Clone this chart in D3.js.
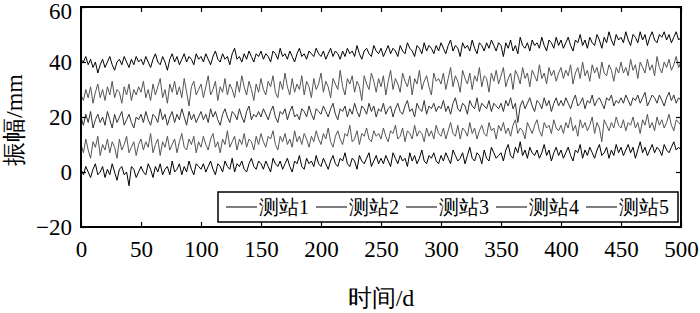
<!DOCTYPE html>
<html>
<head>
<meta charset="utf-8">
<script src="https://cdn.jsdelivr.net/npm/d3@7"></script>
</head>
<body style="margin:0;background:#fff">
<div class="chart"></div>
<script>
/* series names and time axis */
const stations = ["测站1", "测站2", "测站3", "测站4", "测站5"];
const days = d3.range(0, 501, 2);
const xTicks = [0, 50, 100, 150, 200, 250, 300, 350, 400, 450, 500];
const yTicks = [-20, 0, 20, 40, 60];

/* amplitude (mm), every 2 days */
const s1 = [
  41,40,42,39,41,38,40,36,39,41,38,40,42,39,37,40,41,39,42,40,38,41,39,42,40,
  41,39,42,40,38,41,43,40,39,42,40,37,41,43,40,42,39,41,43,40,42,41,39,43,41,
  42,40,43,41,39,42,44,41,40,43,41,42,39,43,45,41,42,40,43,41,44,42,40,43,42,
  44,41,43,42,40,44,43,41,45,42,43,41,44,42,40,43,45,42,43,41,44,43,42,45,43,
  42,44,41,43,45,42,44,43,41,44,42,45,43,44,42,46,43,41,44,45,43,42,46,44,43,
  45,42,44,46,43,45,44,42,46,44,43,47,45,44,42,46,45,43,47,44,46,45,43,46,44,
  47,45,43,46,48,44,46,45,42,47,45,46,44,48,45,43,47,46,44,47,45,48,46,44,47,
  46,42,47,45,48,44,46,43,49,46,45,47,44,48,46,47,45,49,46,44,48,47,45,49,46,
  48,45,47,49,46,44,48,47,50,46,48,45,49,47,46,50,48,45,49,47,51,48,46,50,48,
  49,47,51,48,46,50,49,47,51,48,50,46,49,51,48,47,50,49,51,48,50,47,49,51,48,
  49
];
const s2 = [
  28,26,30,27,31,25,29,32,27,30,26,31,28,33,27,30,29,25,31,28,32,26,30,28,31,
  29,33,27,30,26,32,28,31,34,27,30,25,32,29,33,28,31,27,34,29,24,31,33,28,30,
  32,27,31,35,28,30,33,26,31,29,34,28,32,30,27,33,29,35,31,28,33,30,26,32,29,
  34,30,28,33,31,35,29,27,33,30,36,31,28,34,29,32,30,35,28,33,31,27,34,30,32,
  36,29,33,31,27,34,32,30,37,31,28,34,32,35,29,33,31,26,35,32,30,36,33,29,34,
  31,35,28,33,37,30,34,32,29,36,33,31,35,28,34,32,37,30,33,35,31,28,36,33,34,
  32,36,30,34,38,31,35,33,29,37,34,32,36,30,35,33,38,31,35,34,29,36,33,37,32,
  35,38,31,34,36,30,37,35,32,38,34,36,31,37,35,33,39,34,36,32,38,35,37,33,36,
  38,34,37,35,39,32,36,38,34,40,35,37,33,39,36,38,34,40,36,35,39,37,33,38,36,
  40,36,38,35,41,37,39,34,40,38,36,41,37,39,35,42,38,36,40,38,41,37,39,42,38,
  40
];
const s3 = [
  20,17,21,18,22,16,19,21,18,20,17,22,19,16,21,18,20,22,17,19,21,18,16,20,19,
  21,18,22,19,17,21,20,18,23,19,21,17,20,22,18,21,19,23,20,17,22,19,21,18,20,
  22,19,21,18,23,20,22,19,17,21,23,20,18,22,21,19,23,20,18,22,24,19,21,20,22,
  20,23,21,19,22,24,20,18,22,21,23,19,22,24,20,21,19,23,22,20,24,21,19,23,22,
  21,24,22,20,23,25,21,19,23,22,24,20,23,21,25,22,20,24,23,21,25,22,24,20,23,
  22,25,21,23,24,20,23,25,22,21,24,26,22,23,20,25,23,22,26,21,24,23,25,22,24,
  23,26,22,24,21,25,27,23,22,25,24,21,26,24,23,27,22,25,24,23,26,22,25,24,23,
  25,22,26,24,27,23,25,18,24,26,23,25,27,24,22,26,25,23,27,24,26,22,25,27,24,
  26,24,27,25,23,26,28,24,25,27,23,26,25,28,24,26,27,25,23,27,26,28,24,26,25,
  27,25,28,26,24,27,26,28,25,27,29,24,26,28,27,25,28,26,24,27,29,26,28,25,27,
  26
];
const s4 = [
  10,7,12,8,5,11,9,13,6,10,8,12,7,11,9,5,12,8,10,13,7,9,11,6,10,
  12,8,11,9,14,7,10,12,6,11,9,13,8,10,12,7,11,14,9,8,12,10,13,7,11,
  9,13,10,8,12,14,9,11,7,12,10,15,9,11,13,8,12,10,14,9,12,11,8,13,10,
  14,11,9,13,12,15,10,8,13,11,14,10,12,9,15,11,13,10,14,12,9,13,11,15,12,
  10,14,12,16,11,9,13,15,12,10,14,13,17,11,12,15,10,14,13,16,12,11,15,13,14,
  12,16,13,11,15,14,17,12,13,16,11,15,14,12,17,13,15,14,11,16,13,15,12,17,14,
  13,16,12,15,18,14,13,17,12,16,15,13,18,14,16,12,15,17,14,13,18,15,16,12,17,
  15,18,14,16,13,17,19,14,16,15,12,18,16,14,17,19,15,13,18,16,17,14,19,16,15,
  17,14,18,16,20,15,17,13,19,16,18,15,17,20,14,18,16,11,19,17,15,18,16,20,17,
  16,19,15,18,17,20,16,18,14,19,17,21,16,18,15,20,17,19,16,18,21,17,15,19,18,
  17
];
const s5 = [
  1,-1,2,0,-2,1,3,-1,0,2,-2,1,-1,3,0,-3,1,2,-1,0,-5,2,1,-2,0,
  2,0,-1,3,1,-2,2,0,3,-1,1,2,-1,4,0,1,3,-1,2,0,4,1,-1,3,2,
  1,3,0,2,4,1,-1,3,2,0,4,2,1,5,0,3,2,4,1,0,3,5,2,1,4,
  3,1,4,2,0,5,3,2,4,1,3,5,2,0,4,3,6,2,1,5,3,4,2,6,3,
  2,5,3,1,4,6,3,2,5,4,7,3,2,5,4,1,6,4,3,5,7,2,4,6,3,
  5,3,6,4,2,7,5,3,6,4,5,2,7,4,6,3,5,8,4,3,6,5,7,4,3,
  6,4,7,5,3,8,6,4,5,7,3,6,9,5,4,7,6,3,8,5,4,9,7,5,6,
  7,4,8,10,6,5,9,7,11,6,8,5,9,7,6,8,5,7,10,6,8,4,7,9,6,
  8,5,7,9,6,4,8,7,10,5,8,6,9,7,5,8,10,6,7,9,5,8,6,10,7,
  9,6,8,10,7,9,5,8,11,7,9,6,8,10,7,9,8,6,10,8,7,9,11,8,9,
  8
];
const series = [s1, s2, s3, s4, s5];
const colors = ["#000", "#555", "#333", "#555", "#000"];

/* svg */
const width = 700;
const height = 313;
const margin = {top: 7, right: 19, bottom: 86, left: 81};
const serif = "Liberation Serif";

const svg = d3.select(".chart").append("svg")
  .attr("width", width)
  .attr("height", height)
  .attr("viewBox", [0, 0, width, height])
  .attr("font-family", serif);

const x = d3.scaleLinear().domain([0, 500]).range([margin.left, width - margin.right]);
const y = d3.scaleLinear().domain([-20, 60]).range([height - margin.bottom, margin.top]);

/* lines */
const line = d3.line()
  .x((d, i) => x(days[i]))
  .y(d => y(d));

svg.append("g")
  .selectAll("path")
  .data(series)
  .join("path")
    .attr("d", line)
    .attr("fill", "none")
    .attr("stroke", (d, i) => colors[i])
    .attr("stroke-width", 1);

/* axes with inward ticks on all 4 sides */
const fmt = d => d < 0 ? "\u2212" + Math.abs(d) : d;

svg.append("g")
  .attr("transform", `translate(0,${height - margin.bottom})`)
  .call(d3.axisBottom(x).tickValues(xTicks).tickSize(-5).tickPadding(14))
  .call(g => g.select(".domain").remove());

svg.append("g")
  .attr("transform", `translate(0,${margin.top})`)
  .call(d3.axisTop(x).tickValues(xTicks).tickSize(-5).tickFormat(""))
  .call(g => g.select(".domain").remove());

svg.append("g")
  .attr("transform", `translate(${margin.left},0)`)
  .call(d3.axisLeft(y).tickValues(yTicks).tickSize(-5).tickPadding(9).tickFormat(fmt))
  .call(g => g.select(".domain").remove())
  .call(g => g.selectAll(".tick").filter(d => d === 60).select("text").attr("dy", "0.5em"));

svg.append("g")
  .attr("transform", `translate(${width - margin.right},0)`)
  .call(d3.axisRight(y).tickValues(yTicks).tickSize(-5).tickFormat(""))
  .call(g => g.select(".domain").remove());

// drop the sans-serif that d3 puts on each axis group
svg.selectAll("g").attr("font-family", null).attr("font-size", null);
svg.selectAll(".tick line").attr("stroke", "#000").attr("stroke-width", 1.2);
svg.selectAll(".tick text")
  .attr("font-size", 23)
  .attr("fill", "#000");

/* frame */
svg.append("rect")
  .attr("x", margin.left)
  .attr("y", margin.top)
  .attr("width", width - margin.left - margin.right)
  .attr("height", height - margin.top - margin.bottom)
  .attr("fill", "none")
  .attr("stroke", "#000")
  .attr("stroke-width", 2);

/* legend */
const legend = svg.append("g");
legend.append("rect")
  .attr("x", 218).attr("y", 192)
  .attr("width", 460).attr("height", 30)
  .attr("fill", "#fff")
  .attr("stroke", "#000")
  .attr("stroke-width", 1.5);

const item = legend.selectAll("g.item")
  .data(stations)
  .join("g")
    .attr("class", "item")
    .attr("transform", (d, i) => `translate(${226 + i * 90},207)`);

item.append("line")
  .attr("x1", 0).attr("x2", 31)
  .attr("stroke", "#000")
  .attr("stroke-width", 1);

item.append("text")
  .attr("x", 33)
  .attr("y", 7)
  .attr("font-size", 20)
  .text(d => d);

/* axis titles */
svg.append("text")
  .attr("x", (margin.left + width - margin.right) / 2)
  .attr("y", 306)
  .attr("text-anchor", "middle")
  .attr("font-size", 24)
  .text("时间/d");

svg.append("text")
  .attr("transform", `translate(22,${(margin.top + height - margin.bottom) / 2 + 3}) rotate(-90)`)
  .attr("text-anchor", "middle")
  .attr("font-size", 24)
  .text("振幅/mm");

svg.selectAll("text").style("font-family", `"${serif}"`);
</script>
</body>
</html>
